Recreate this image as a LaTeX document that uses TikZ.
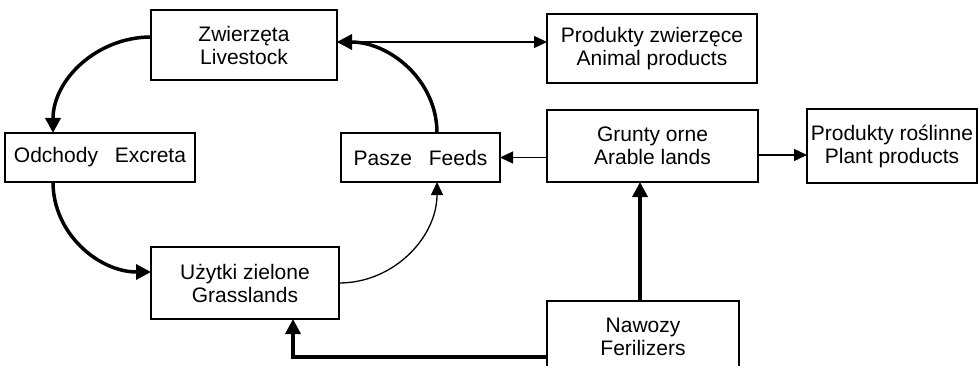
\documentclass[tikz,border=0pt]{standalone}
\usepackage{fontspec}
\setmainfont{Liberation Sans}
\usetikzlibrary{arrows.meta}

\begin{document}
\begin{tikzpicture}[
        x=1pt, y=-1pt,
        box/.style={rectangle, draw, line width=1.3pt, fill=white, inner sep=0pt, outer sep=0pt, align=center, font=\fontsize{21}{23}\selectfont},
        flow/.style={-{Triangle[length=13pt, width=12pt]}, line width=1.3pt},
        twoway/.style={{Triangle[length=13pt, width=12pt]}-{Triangle[length=13pt, width=12pt]}, line width=1.3pt},
        mainflow/.style={-{Triangle[length=15pt, width=15pt]}, line width=3.5pt}
    ]
        \clip (0,0) rectangle (979,366);

        % --- Top: Livestock and animal products ---
        \node[box, minimum width=186pt, minimum height=70pt] (zw) at (244,45) {Zwierzęta\\Livestock};
        \node[box, minimum width=210pt, minimum height=69pt] (pz) at (652,48.5) {Produkty zwierzęce\\Animal products};

        % --- Middle row ---
        \node[box, minimum width=190pt, minimum height=49pt] (od) at (100,157.5) {Odchody\hspace{0.8em}Excreta};
        \node[box, minimum width=159pt, minimum height=49pt] (pa) at (420.5,157.5) {Pasze\hspace{0.8em}Feeds};
        \node[box, minimum width=211pt, minimum height=72pt] (go) at (652.5,146) {Grunty orne\\Arable lands};
        \node[box, minimum width=170pt, minimum height=74pt] (pr) at (892,146) {Produkty roślinne\\Plant products};

        % --- Bottom row ---
        \node[box, minimum width=188pt, minimum height=72pt] (uz) at (245,283) {Użytki zielone\\Grasslands};
        \node[box, minimum width=192pt, minimum height=72pt] (na) at (643,337) {Nawozy\\Ferilizers};

        % --- Nutrient cycle ---
        \draw[mainflow] ([yshift=8pt]zw.west) to[out=180, in=90] ([xshift=-47pt]od.north);
        \draw[mainflow] ([xshift=-47pt]od.south) to[out=-90, in=180] ([yshift=11pt]uz.west);
        \draw[flow] (uz.east) to[out=0, in=-90] ([xshift=16.5pt]pa.south);
        \draw[mainflow] ([xshift=16.5pt]pa.north) to[out=90, in=0] ([yshift=3pt]zw.east);

        % --- Products ---
        \draw[twoway] ([yshift=3pt]zw.east) -- ([yshift=3pt]zw.east -| pz.west);
        \draw[flow] (go.west |- pa.east) -- (pa.east);
        \draw[flow] ([yshift=-9pt]go.east) -- ([yshift=-9pt]pr.west);

        % --- Fertilizers ---
        \draw[mainflow] ([xshift=-3pt]na.north) -- ([xshift=-3pt]na.north |- go.south);
        \draw[mainflow] ([yshift=-20pt]na.west) -| ([xshift=48pt]uz.south);

    \end{tikzpicture}
\end{document}
